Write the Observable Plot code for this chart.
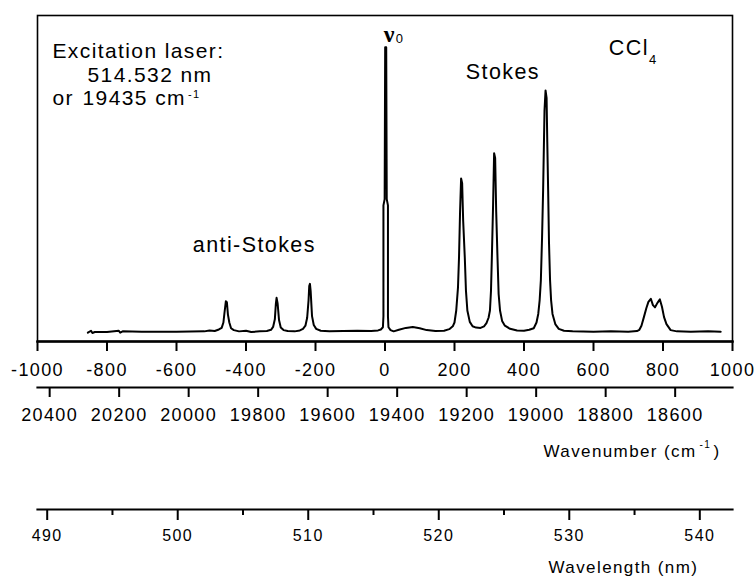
<!DOCTYPE html>
<html>
<head>
<meta charset="utf-8">
<script src="https://cdn.jsdelivr.net/npm/d3@7"></script>
<script src="https://cdn.jsdelivr.net/npm/@observablehq/plot@0.6"></script>
<style>
  body { margin: 0; background: #fff; }
  #chart { width: 754px; height: 578px; overflow: hidden; background: #fff; }
  #chart svg { display: block; }
</style>
</head>
<body>
<div id="chart"></div>
<script>
// ---- data ----
const laserWavenumber = 19435; // cm-1 (514.532 nm)

// Raman shift (cm-1) of the traced spectrum points
const ramanShift = [
  -855, -846, -842, -835, -800, -766, -762, -755, -700, -600,
  -520, -505, -490, -478, -470, -465, -462, -458, -455, -452, -448, -443, -435, -420, -400,
  -385, -360, -340, -328, -322, -317, -314, -312, -309, -305, -300, -292, -280,
  -260, -245, -236, -229, -224, -220, -218, -216, -214, -210, -205, -198, -185, -160,
  -120, -80, -40, -20, -12, -6, -4.5, -4.5, -1, 0.5, 3.5, 5, 8.5, 8.5, 10, 16,
  25, 40, 60, 80, 100, 120, 145, 170,
  185, 195, 200, 205, 210, 213, 216, 219, 222, 225, 229.6, 233, 237, 244, 252, 262,
  275, 285, 292, 298, 302, 305, 307.5, 311, 314, 317, 320, 323.7, 327, 331, 337, 345, 360, 380,
  400, 415, 428, 436, 441, 445, 448.5, 452, 455, 459, 462, 465, 467, 469.5, 472, 475, 478, 482, 490, 500, 515, 540,
  600, 650, 700, 725, 732, 738, 745, 752, 758, 765, 771, 777, 784, 791, 797, 803, 810, 822, 840, 880, 930, 966
];
// relative Raman intensity (arbitrary units) at those shifts
const intensity = [
  -0.2, 0.4, -0.3, 0, 0, 0.4, -0.2, 0.2, 0.1, 0.1,
  0.2, 0.5, 0.3, 0.8, 1.3, 3, 6, 9.7, 9.4, 5.5, 3, 1.2, 0.6, 0.2, 0.4,
  0, 0.2, 0.3, 0.7, 1.6, 4, 9, 10.8, 9, 3.8, 1.4, 0.6, 0.3,
  0.2, 0.5, 1, 2, 4.5, 10, 14.5, 15.2, 13, 5, 2.2, 1, 0.4, 0.2,
  0.3, 0.4, 0.3, 0.5, 0.8, 1.5, 5, 40, 42, 90, 90, 42, 40, 5, 1.5, 0.6,
  0.2, 0.7, 1.3, 1.6, 1.2, 0.6, 0.3, 0.4,
  0.9, 1.8, 3, 6.8, 14, 23.6, 38, 48.5, 47, 35, 23.6, 13, 6.8, 3.2, 1.8, 1.4,
  1.3, 1.8, 2.8, 4.5, 6.8, 13, 23.6, 40, 56.5, 55, 38, 23.6, 12, 6.8, 3.5, 2, 1, 0.5,
  0.4, 0.7, 1.2, 3, 5.7, 10, 16.3, 30, 44.7, 70, 76.3, 74, 60, 44.7, 28, 16.3, 10, 5.7, 2.5, 1, 0.4, 0.2,
  0.1, 0.2, 0.1, 0.3, 0.7, 2, 4.7, 7.5, 9.5, 10.5, 8.5, 7.8, 9.2, 10.3, 8, 4.7, 2.5, 0.6, 0.2, 0.1, 0.2, 0.1
];

// tick values of the three horizontal axes
const shiftTicks = [-1000, -800, -600, -400, -200, 0, 200, 400, 600, 800, 1000];
const wavenumberTicks = [20400, 20200, 20000, 19800, 19600, 19400, 19200, 19000, 18800, 18600];
const wavelengthTicks = [490, 500, 510, 520, 530, 540];
const wavelengthMinorTicks = [495, 505, 515, 525, 535];

// ---- chart ----
const spectrum = ramanShift.map((s, i) => ({shift: s, intensity: intensity[i]}));
const sans = "'Liberation Sans', Arial, Helvetica, sans-serif";
const baseStyle = {fontFamily: sans, fontSize: "18px", letterSpacing: "1.4px", color: "#000", background: "#fff", overflow: "visible"};
const W = 754, ML = 37, MR = 22;

const label = (s, opts) => Plot.text([s], {text: d => d, textAnchor: "start", lineAnchor: "bottom", fill: "#000", ...opts});

const main = Plot.plot({
  width: W, height: 385, marginLeft: ML, marginRight: MR, marginTop: 15, marginBottom: 44,
  style: baseStyle,
  x: {domain: [-1000, 1000], label: null},
  y: {domain: [-3, 100], axis: null, label: null},
  marks: [
    Plot.frame({stroke: "#000", strokeWidth: 1.6}),
    Plot.frame({anchor: "bottom", stroke: "#000", strokeWidth: 2.4}),
    Plot.axisX({ticks: shiftTicks, tickSize: 10, tickPadding: 12, tickFormat: d => String(d), strokeWidth: 2, fontSize: 18, label: null}),
    Plot.line(spectrum, {x: "shift", y: "intensity", stroke: "#000", strokeWidth: 2, strokeLinejoin: "round"}),
    label("Excitation laser:", {x: () => -957, y: () => 86.6, fontSize: 21}),
    label("514.532 nm", {x: () => -856, y: () => 79.0, fontSize: 21}),
    label("or", {x: () => -957, y: () => 71.8, fontSize: 21}),
    label("19435 cm", {x: () => -870.5, y: () => 71.8, fontSize: 21}),
    label("-1", {x: () => -567, y: () => 73.8, fontSize: 11}),
    label("\u03bd", {x: () => -3.5, y: () => 91.5, fontSize: 24, fontWeight: "bold", fontFamily: "'Liberation Serif', 'DejaVu Serif', serif"}),
    label("0", {x: () => 31, y: () => 91.3, fontSize: 13}),
    label("Stokes", {x: () => 232.5, y: () => 80.0, fontSize: 21.5}),
    label("CCl", {x: () => 644, y: () => 87.4, fontSize: 21.5}),
    label("4", {x: () => 760, y: () => 84.8, fontSize: 13}),
    label("anti-Stokes", {x: () => -553, y: () => 25.4, fontSize: 21.5})
  ]
});

const wnAxis = Plot.plot({
  width: W, height: 80, marginLeft: ML, marginRight: MR, marginTop: 0, marginBottom: 78,
  style: baseStyle,
  x: {domain: [laserWavenumber + 1000, laserWavenumber - 1000], label: null},
  marks: [
    Plot.frame({anchor: "bottom", stroke: "#000", strokeWidth: 2.2}),
    Plot.axisX({ticks: wavenumberTicks, tickSize: 10, tickPadding: 11, tickFormat: d => String(d), strokeWidth: 2, fontSize: 18, label: null}),
    label("Wavenumber (cm", {x: () => 18979, frameAnchor: "bottom", dy: 69, fontSize: 17}),
    label("-1", {x: () => 18530, frameAnchor: "bottom", dy: 60, fontSize: 10}),
    label(")", {x: () => 18490, frameAnchor: "bottom", dy: 69, fontSize: 17})
  ]
});

const wlAxis = Plot.plot({
  width: W, height: 113, marginLeft: ML, marginRight: MR, marginTop: 42, marginBottom: 69,
  style: baseStyle,
  x: {domain: [489.257, 542.505], label: null},
  marks: [
    Plot.frame({anchor: "bottom", stroke: "#000", strokeWidth: 2.2}),
    Plot.axisX({ticks: wavelengthTicks, tickSize: 11, tickPadding: 9, tickFormat: d => String(d), strokeWidth: 2, fontSize: 16, label: null}),
    Plot.axisX({ticks: wavelengthMinorTicks, tickSize: 6, tickFormat: () => "", strokeWidth: 2, label: null}),
    label("Wavelength (nm)", {x: () => 528.41, frameAnchor: "bottom", dy: 63, fontSize: 17})
  ]
});

const chart = document.getElementById("chart");
chart.append(main, wnAxis, wlAxis);
</script>
</body>
</html>
